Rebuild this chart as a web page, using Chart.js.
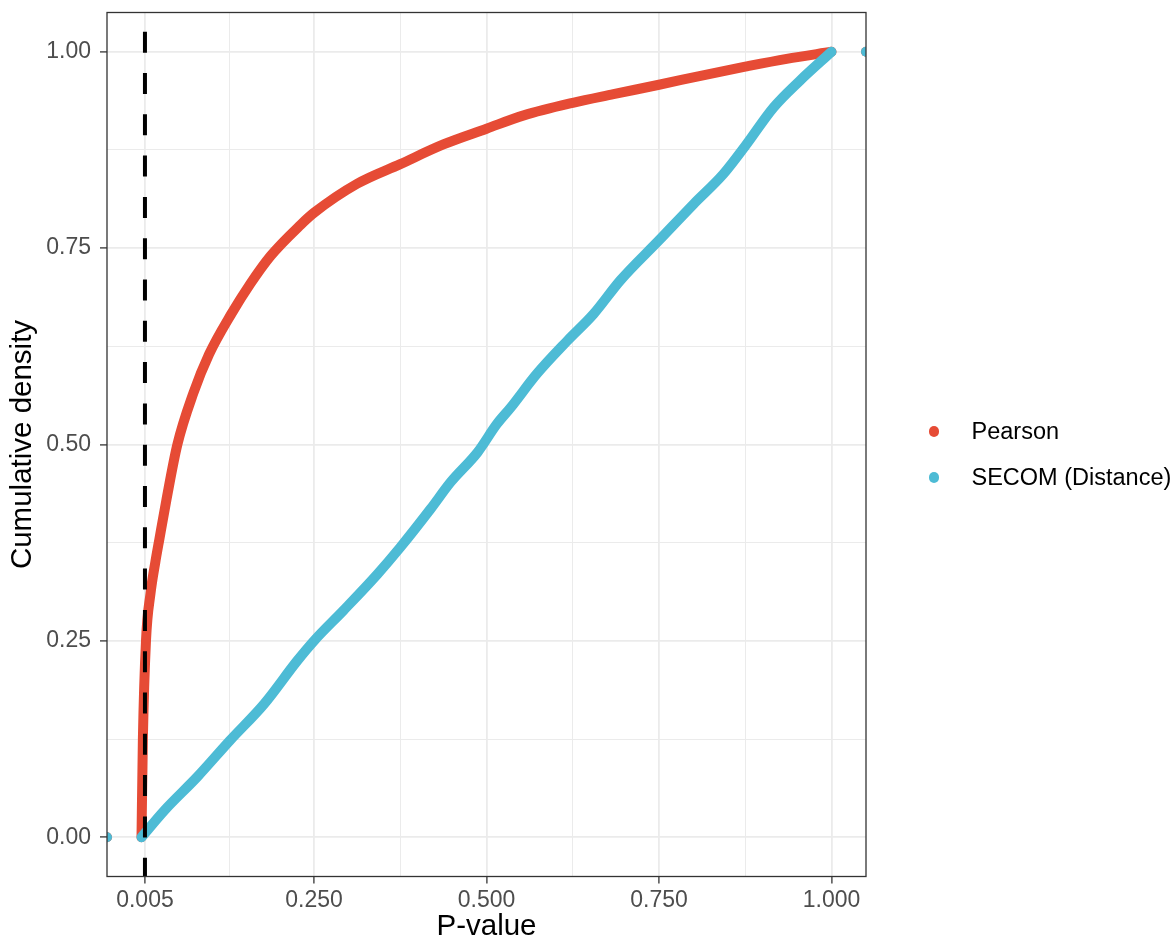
<!DOCTYPE html>
<html>
<head>
<meta charset="utf-8">
<title>Cumulative density of P-values</title>
<script src="https://cdn.jsdelivr.net/npm/chart.js@4.4.1/dist/chart.umd.min.js"></script>
<style>
  body { margin: 0; background: #fff; font-family: "Liberation Sans", Arial, sans-serif; }
  #wrap { position: relative; width: 1176px; height: 945px; }
  .key { position: absolute; left: 0; height: 30px; width: 300px; }
  .dot { position: absolute; left: 928.5px; top: 10px; width: 10.5px; height: 10.5px; border-radius: 50%; }
  .lbl { position: absolute; left: 971.5px; top: 0; line-height: 30px; font-size: 23.5px; color: #000; white-space: nowrap; }
</style>
</head>
<body>
<div id="wrap">
  <canvas id="ecdfChart" width="1176" height="945"></canvas>
</div>
<script>
// P-value ECDF
const pearsonP   = [0, 0.002, 0.0065, 0.013, 0.02, 0.026, 0.036, 0.052, 0.075, 0.098, 0.13, 0.158, 0.187, 0.231, 0.25, 0.3125, 0.375, 0.4375, 0.5, 0.554, 0.625, 0.684, 0.75, 0.819, 0.875, 0.935, 1.0];
const pearsonCum = [0, 0.125, 0.25, 0.31, 0.35, 0.38, 0.429, 0.5, 0.565, 0.615, 0.666, 0.705, 0.74, 0.78, 0.795, 0.832, 0.857, 0.882, 0.902, 0.919, 0.935, 0.946, 0.958, 0.971, 0.981, 0.991, 1.0];

const secomP   = [0, 0.033, 0.081, 0.128, 0.178, 0.226, 0.251, 0.293, 0.342, 0.375, 0.419, 0.448, 0.487, 0.515, 0.535, 0.573, 0.617, 0.655, 0.694, 0.75, 0.8, 0.843, 0.875, 0.916, 0.954, 1.0];
const secomCum = [0, 0.034, 0.077, 0.123, 0.17, 0.225, 0.251, 0.289, 0.335, 0.369, 0.418, 0.452, 0.49, 0.526, 0.547, 0.59, 0.632, 0.666, 0.709, 0.76, 0.806, 0.844, 0.88, 0.929, 0.963, 1.0];

// padded ends of the ecdf (drawn at the panel edges)
const padP = [-0.05, 1.05];
const padCum = [0, 1];

const cutoff = 0.005;

const seriesNames = ["Pearson", "SECOM (Distance)"];
const seriesColors = ["#E64B35", "#4DBBD5"];

const xMajor = [0.005, 0.25, 0.5, 0.75, 1.0];
const xMajorLabels = ["0.005", "0.250", "0.500", "0.750", "1.000"];
const xMinor = [0.1275, 0.375, 0.625, 0.875];
const yMajor = [0, 0.25, 0.5, 0.75, 1.0];
const yMajorLabels = ["0.00", "0.25", "0.50", "0.75", "1.00"];
const yMinor = [0.125, 0.375, 0.625, 0.875];

const FONT = "'Liberation Sans', Arial, sans-serif";

const toPoints = (xs, ys) => xs.map((x, i) => ({ x: x, y: ys[i] }));

// grid + tick helpers (ggplot theme_bw look)
function axisOptions(major, labels, minor) {
  const isMajor = v => major.indexOf(v) >= 0;
  return {
    type: "linear",
    min: -0.05,
    max: 1.05,
    afterBuildTicks: scale => {
      scale.ticks = major.concat(minor).sort((a, b) => a - b).map(v => ({ value: v }));
    },
    ticks: {
      autoSkip: false,
      maxRotation: 0,
      color: "#4D4D4D",
      font: { family: FONT, size: 23, lineHeight: 1.2 },
      callback: value => (isMajor(value) ? labels[major.indexOf(value)] : "")
    },
    grid: {
      color: "#EBEBEB",
      lineWidth: ctx => (ctx.tick && isMajor(ctx.tick.value) ? 1.8 : 1),
      drawTicks: true,
      tickLength: 7,
      tickWidth: 1.3,
      tickColor: ctx => (ctx.tick && isMajor(ctx.tick.value) ? "#333333" : "rgba(0,0,0,0)")
    },
    border: { display: false }
  };
}

const xAxis = axisOptions(xMajor, xMajorLabels, xMinor);
xAxis.ticks.padding = 3;
xAxis.title = {
  display: true,
  text: "P-value",
  color: "#000",
  font: { family: FONT, size: 29.5, lineHeight: 1.2 },
  padding: { top: 0, bottom: 0 }
};
xAxis.afterFit = scale => {
  scale.height = 68.5;
  scale.paddingLeft = 0;
  scale.paddingRight = 0;
};

const yAxis = axisOptions(yMajor, yMajorLabels, yMinor);
yAxis.ticks.padding = 9;
yAxis.title = {
  display: true,
  text: "Cumulative density",
  color: "#000",
  font: { family: FONT, size: 29.5, lineHeight: 1.2 },
  padding: { top: 5, bottom: 0 }
};
yAxis.afterFit = scale => {
  scale.width = 107;
  scale.paddingTop = 0;
  scale.paddingBottom = 0;
};

// panel border drawn on top of everything
const panelBorder = {
  id: "panelBorder",
  afterDraw(chart) {
    const { ctx, chartArea } = chart;
    ctx.save();
    ctx.strokeStyle = "#333333";
    ctx.lineWidth = 1.3;
    ctx.strokeRect(chartArea.left, chartArea.top, chartArea.right - chartArea.left, chartArea.bottom - chartArea.top);
    ctx.restore();
  }
};

const lineStyle = color => ({
  showLine: true,
  borderColor: color,
  backgroundColor: color,
  borderWidth: 10,
  borderCapStyle: "round",
  borderJoinStyle: "round",
  pointRadius: 0,
  cubicInterpolationMode: "monotone"
});

const padStyle = color => ({
  showLine: false,
  pointRadius: 5,
  backgroundColor: color,
  borderWidth: 0
});

new Chart(document.getElementById("ecdfChart"), {
  type: "scatter",
  data: {
    datasets: [
      {
        label: "cutoff",
        data: [{ x: cutoff, y: -0.05 }, { x: cutoff, y: 1.05 }],
        showLine: true,
        borderColor: "#000",
        borderWidth: 4,
        borderDash: [21, 20.3],
        borderDashOffset: 2.2,
        borderCapStyle: "butt",
        pointRadius: 0,
        order: 0
      },
      Object.assign({ label: seriesNames[1] + " pad", data: toPoints(padP, padCum), order: 1 }, padStyle(seriesColors[1])),
      Object.assign({ label: seriesNames[1], data: toPoints(secomP, secomCum), order: 2 }, lineStyle(seriesColors[1])),
      Object.assign({ label: seriesNames[0] + " pad", data: toPoints(padP, padCum), order: 3 }, padStyle(seriesColors[0])),
      Object.assign({ label: seriesNames[0], data: toPoints(pearsonP, pearsonCum), order: 4 }, lineStyle(seriesColors[0]))
    ]
  },
  options: {
    responsive: false,
    animation: false,
    layout: { padding: { top: 12.5, right: 310, bottom: 0, left: 0 } },
    plugins: {
      legend: { display: false },
      tooltip: { enabled: false }
    },
    scales: { x: xAxis, y: yAxis }
  },
  plugins: [panelBorder]
});

// legend on the right
const legendTops = [431, 477];
const wrap = document.getElementById("wrap");
seriesNames.forEach((name, i) => {
  const key = document.createElement("div");
  key.className = "key";
  key.style.top = (legendTops[i] - 15) + "px";
  key.innerHTML = `<div class="dot" style="background:${seriesColors[i]}"></div><span class="lbl">${name}</span>`;
  wrap.appendChild(key);
});
</script>
</body>
</html>
